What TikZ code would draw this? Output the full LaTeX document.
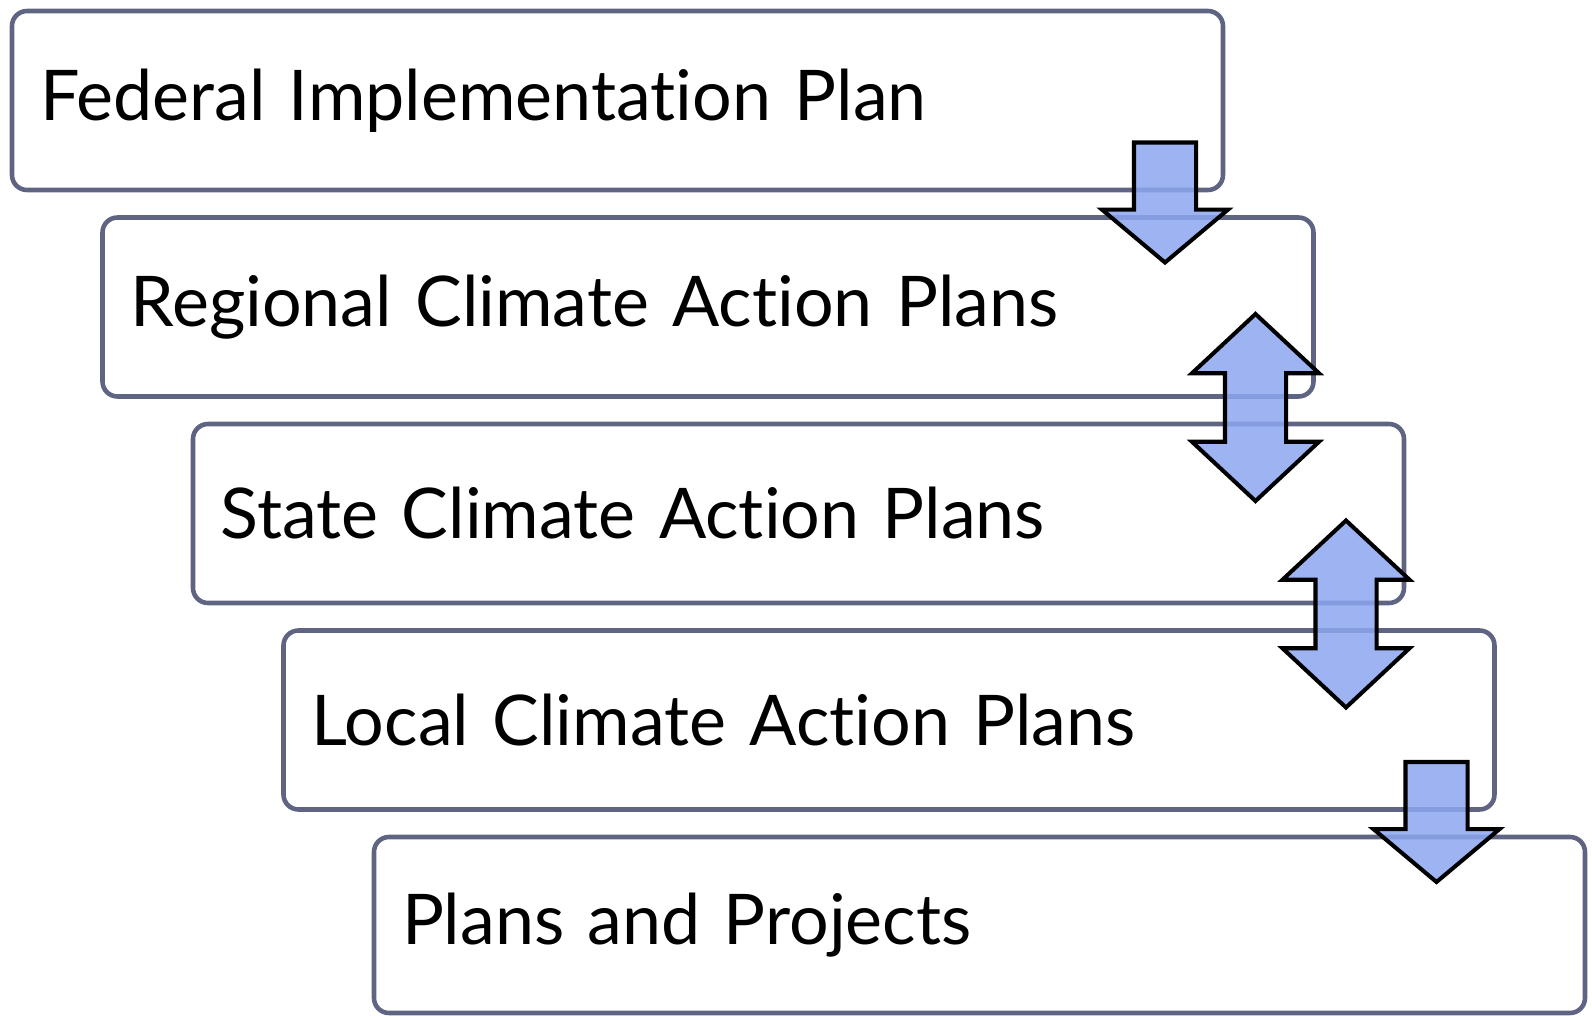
\documentclass[tikz,border=0pt]{standalone}
\usepackage{fontspec}
\setmainfont{Lato}[Ligatures=NoCommon]
\usetikzlibrary{positioning}
\usetikzlibrary{shapes.arrows}
\definecolor{boxline}{RGB}{94,100,130}
\definecolor{arrowblue}{RGB}{140,166,240}
\tikzset{ %one box for each level of plans
  planbox/.style={
    draw=boxline, line width=1.3pt, rounded corners=1.5mm, fill=white,
    minimum height=1.79cm, text width=11.55cm, align=left,
    inner xsep=2.8mm, inner ysep=0pt, outer sep=0pt,
    font=\fontsize{19.9}{23}\selectfont
  },
  blockarrow/.style={
    draw=black, line width=1.15pt, fill=arrowblue, fill opacity=0.85,
    inner xsep=0pt, outer sep=0pt
  },
  downarrow/.style={ % one way, from the upper level
    blockarrow, shape=single arrow, rotate=-90, anchor=tail,
    inner ysep=2.9mm, minimum height=1.2cm,
    single arrow head extend=0.32cm, single arrow tip angle=100
  },
  twowayarrow/.style={ % both ways
    blockarrow, shape=double arrow, rotate=90,
    inner ysep=2.85mm, minimum height=1.87cm,
    double arrow head extend=0.33cm, double arrow tip angle=94
  }
}

\begin{document}
\begin{tikzpicture}[node distance=2.75mm]
\useasboundingbox (0,0) rectangle (15.92,-10.16);

\node [planbox, anchor=north west] (federal) at (0.12,-0.11) {Federal Implementation Plan};
\node [planbox, below=of federal, xshift=9.05mm] (regional) {Regional Climate Action Plans};
\node [planbox, below=of regional, xshift=9.05mm] (state) {State Climate Action Plans};
\node [planbox, below=of state, xshift=9.05mm] (local) {Local Climate Action Plans};
\node [planbox, below=of local, xshift=9.05mm, minimum height=1.76cm] (projects) {Plans and Projects};

% arrows between the levels
\node [xshift=-5.8mm, yshift=4.75mm, downarrow] (fedtoreg) at (federal.south east) {};
\node [xshift=-5.8mm, yshift=-1.1mm, twowayarrow] (regstate) at (regional.south east) {};
\node [xshift=-5.8mm, yshift=-1.1mm, twowayarrow] (statelocal) at (state.south east) {};
\node [xshift=-5.8mm, yshift=4.75mm, downarrow] (localtoproj) at (local.south east) {};
\end{tikzpicture}
\end{document}
